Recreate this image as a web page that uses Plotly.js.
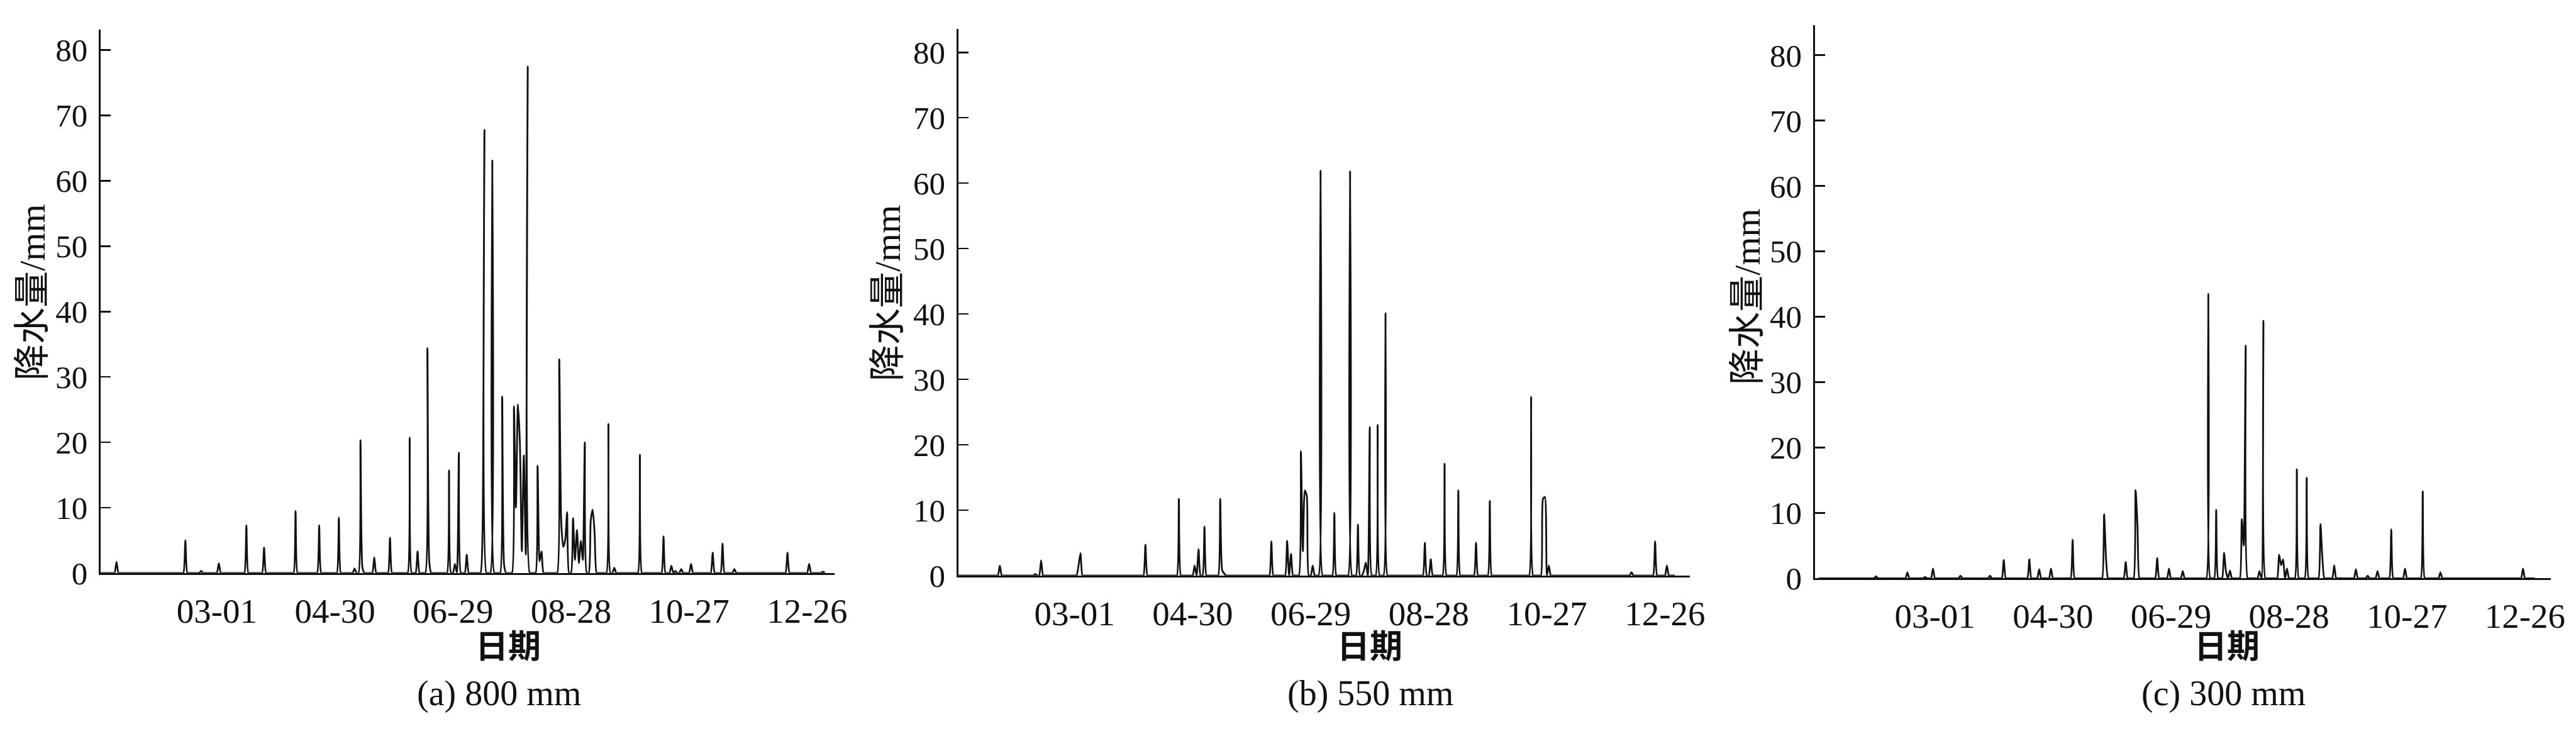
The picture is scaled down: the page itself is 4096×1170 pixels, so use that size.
<!DOCTYPE html>
<html><head><meta charset="utf-8">
<script src="https://cdn.plot.ly/plotly-3.0.1.min.js"></script>
<style>html,body{margin:0;padding:0;background:#fff;} #chart{width:4096px;height:1170px;}</style>
</head><body><div id="chart"></div>
<script>
// ---- data ----
const tickDays = [60, 120, 180, 240, 300, 360];
const tickLabels = ['03-01', '04-30', '06-29', '08-28', '10-27', '12-26'];
const yTicks = [0, 10, 20, 30, 40, 50, 60, 70, 80];
const captions = ['(a) 800 mm', '(b) 550 mm', '(c) 300 mm'];
const yTitleCJK = '降水量';
const yTitleUnit = '/mm';
const xTitle = '日期';

// (a) 800 mm : rainy day index and daily precipitation (mm); all other days are 0
const daysA = [9,44,52,61,75,84,100,112,122,130,133,134,140,148,158,162,167,168,178,181,183,187,195,196,200,205,206,211,212,213,214,215,216,217,218,223,224,225,234,235,236,237,238,241,242,243,244,245,246,247,250,251,252,259,262,275,287,291,293,296,301,312,317,323,350,361,368];
const rainA = [1.7,5.0,0.3,1.5,7.3,3.9,9.5,7.3,8.5,0.7,20.3,0.8,2.4,5.4,20.7,3.3,34.4,1.5,15.7,1.4,18.4,2.8,6.0,67.8,63.1,27.0,1.2,25.5,10.0,25.8,20.0,3.3,18.0,2.8,77.5,16.4,1.8,3.3,32.7,8.0,4.0,5.0,9.3,8.4,2.0,6.6,1.5,4.9,2.0,20.0,8.0,9.7,6.0,22.8,0.8,18.1,5.6,1.1,0.3,0.6,1.4,3.1,4.5,0.6,3.1,1.4,0.2];

// (b) 550 mm
const daysB = [22,40,43,62,63,96,113,121,123,126,134,135,136,160,168,170,175,176,177,178,181,185,192,200,204,207,208,210,214,218,238,241,248,255,264,271,292,298,299,301,343,355,361];
const rainB = [1.5,0.2,2.3,1.5,3.4,4.7,11.7,1.5,4.0,7.5,11.7,0.8,0.3,5.2,5.3,3.3,19.0,3.7,13.0,12.2,1.5,61.9,9.6,61.8,7.8,0.7,2.0,22.7,23.0,40.1,5.0,2.5,17.1,13.0,5.0,11.4,27.3,11.7,12.0,1.5,0.5,5.2,1.5];

// (c) 300 mm
const daysC = [30,46,55,59,73,88,95,108,113,119,130,146,147,157,162,163,173,179,186,199,203,207,208,210,216,217,218,225,227,235,236,237,239,244,249,256,257,263,274,280,285,292,299,308,317,359];
const rainC = [0.3,0.9,0.2,1.5,0.4,0.4,2.8,2.9,1.4,1.5,5.9,9.8,3.0,2.5,13.5,8.0,3.1,1.5,1.1,43.5,10.5,3.9,1.0,1.2,9.1,5.0,35.6,1.1,39.4,3.6,2.0,2.9,1.5,16.7,15.4,8.3,3.0,2.0,1.4,0.4,1.1,7.5,1.5,13.3,0.9,1.5];

// ---- build daily series (zeros on dry days) ----
function daily(days, rain) {
  const n = Math.max(365, Math.max.apply(null, days) + 1);
  const x = [], y = [];
  for (let d = 1; d <= n; d++) { x.push(d); y.push(0); }
  days.forEach((d, i) => { y[d - 1] = rain[i]; });
  return {x, y};
}

// ---- layout geometry (reference pixels, scaled) ----
const W = 4096, H = 1170, S = 0.989;
const panels = [
  {x0: 162,  x1: 1342, yTop: 47.4, yBot: 921,   yMax: 83.15, xr: [1, 374],    yt: [45.8, 469.7],  xt: [816.8, 1035],  cap: [802.8, 1115]},
  {x0: 1541, x1: 2717, yTop: 46.3, yBot: 925,   yMax: 83.6,  xr: [1, 372.7],  yt: [1422.4, 471.5], xt: [2202.6, 1035], cap: [2202.8, 1115]},
  {x0: 2918, x1: 4101, yTop: 40.4, yBot: 929.6, yMax: 84.6,  xr: [-1, 373.1], yt: [2803.6, 477.2], xt: [3580.5, 1035], cap: [3574.9, 1115]}
];
const series = [daily(daysA, rainA), daily(daysB, rainB), daily(daysC, rainC)];

const px = v => v * S / W;
const py = v => 1 - v * S / H;
const black = '#111111';
const serif = 'Liberation Serif, Times New Roman, serif';
const cjk = 'Noto Sans CJK SC, sans-serif';

const data = [];
const layout = {
  width: W, height: H,
  margin: {l: 0, r: 0, t: 0, b: 0},
  paper_bgcolor: '#ffffff', plot_bgcolor: '#ffffff',
  showlegend: false,
  font: {family: serif, color: black},
  annotations: []
};

panels.forEach((p, i) => {
  const k = i === 0 ? '' : String(i + 1);
  data.push({
    x: series[i].x, y: series[i].y,
    xaxis: 'x' + k, yaxis: 'y' + k,
    type: 'scatter', mode: 'lines',
    line: {color: black, width: 2.8, shape: 'spline', smoothing: 0.6},
    hoverinfo: 'skip'
  });
  layout['xaxis' + k] = {
    domain: [px(p.x0), px(p.x1)], anchor: 'y' + k,
    range: p.xr, showgrid: false, zeroline: false,
    showline: true, linecolor: black, linewidth: 2.8,
    ticks: '', tickmode: 'array', tickvals: tickDays, ticktext: tickLabels,
    tickfont: {family: serif, size: 55, color: black},
    ticklabelstandoff: 10, fixedrange: true
  };
  layout['yaxis' + k] = {
    domain: [py(p.yBot), py(p.yTop)], anchor: 'x' + k,
    range: [0, p.yMax], showgrid: false, zeroline: false,
    showline: true, linecolor: black, linewidth: 2.8,
    ticks: 'inside', ticklen: 16, tickwidth: 2.6, tickcolor: black,
    tickmode: 'array', tickvals: yTicks,
    tickfont: {family: serif, size: 51, color: black},
    ticklabelstandoff: 8, fixedrange: true
  };
  layout.annotations.push({
    xref: 'paper', yref: 'paper', x: px(p.yt[0]), y: py(p.yt[1]),
    xanchor: 'center', yanchor: 'middle', textangle: -90, showarrow: false,
    text: `<span style="font-family:'Noto Sans CJK SC'">${yTitleCJK}</span>${yTitleUnit}`,
    font: {family: serif, size: 58, color: black}
  });
  layout.annotations.push({
    xref: 'paper', yref: 'paper', x: px(p.xt[0]), y: py(p.xt[1]),
    xanchor: 'center', yanchor: 'middle', showarrow: false,
    text: xTitle, font: {family: cjk, size: 52, color: black, weight: 'bold'}
  });
  layout.annotations.push({
    xref: 'paper', yref: 'paper', x: px(p.cap[0]), y: py(p.cap[1]),
    xanchor: 'center', yanchor: 'middle', showarrow: false,
    text: captions[i], font: {family: serif, size: 56, color: black}
  });
});

Plotly.newPlot('chart', data, layout, {displayModeBar: false, staticPlot: true});
</script>
</body></html>
